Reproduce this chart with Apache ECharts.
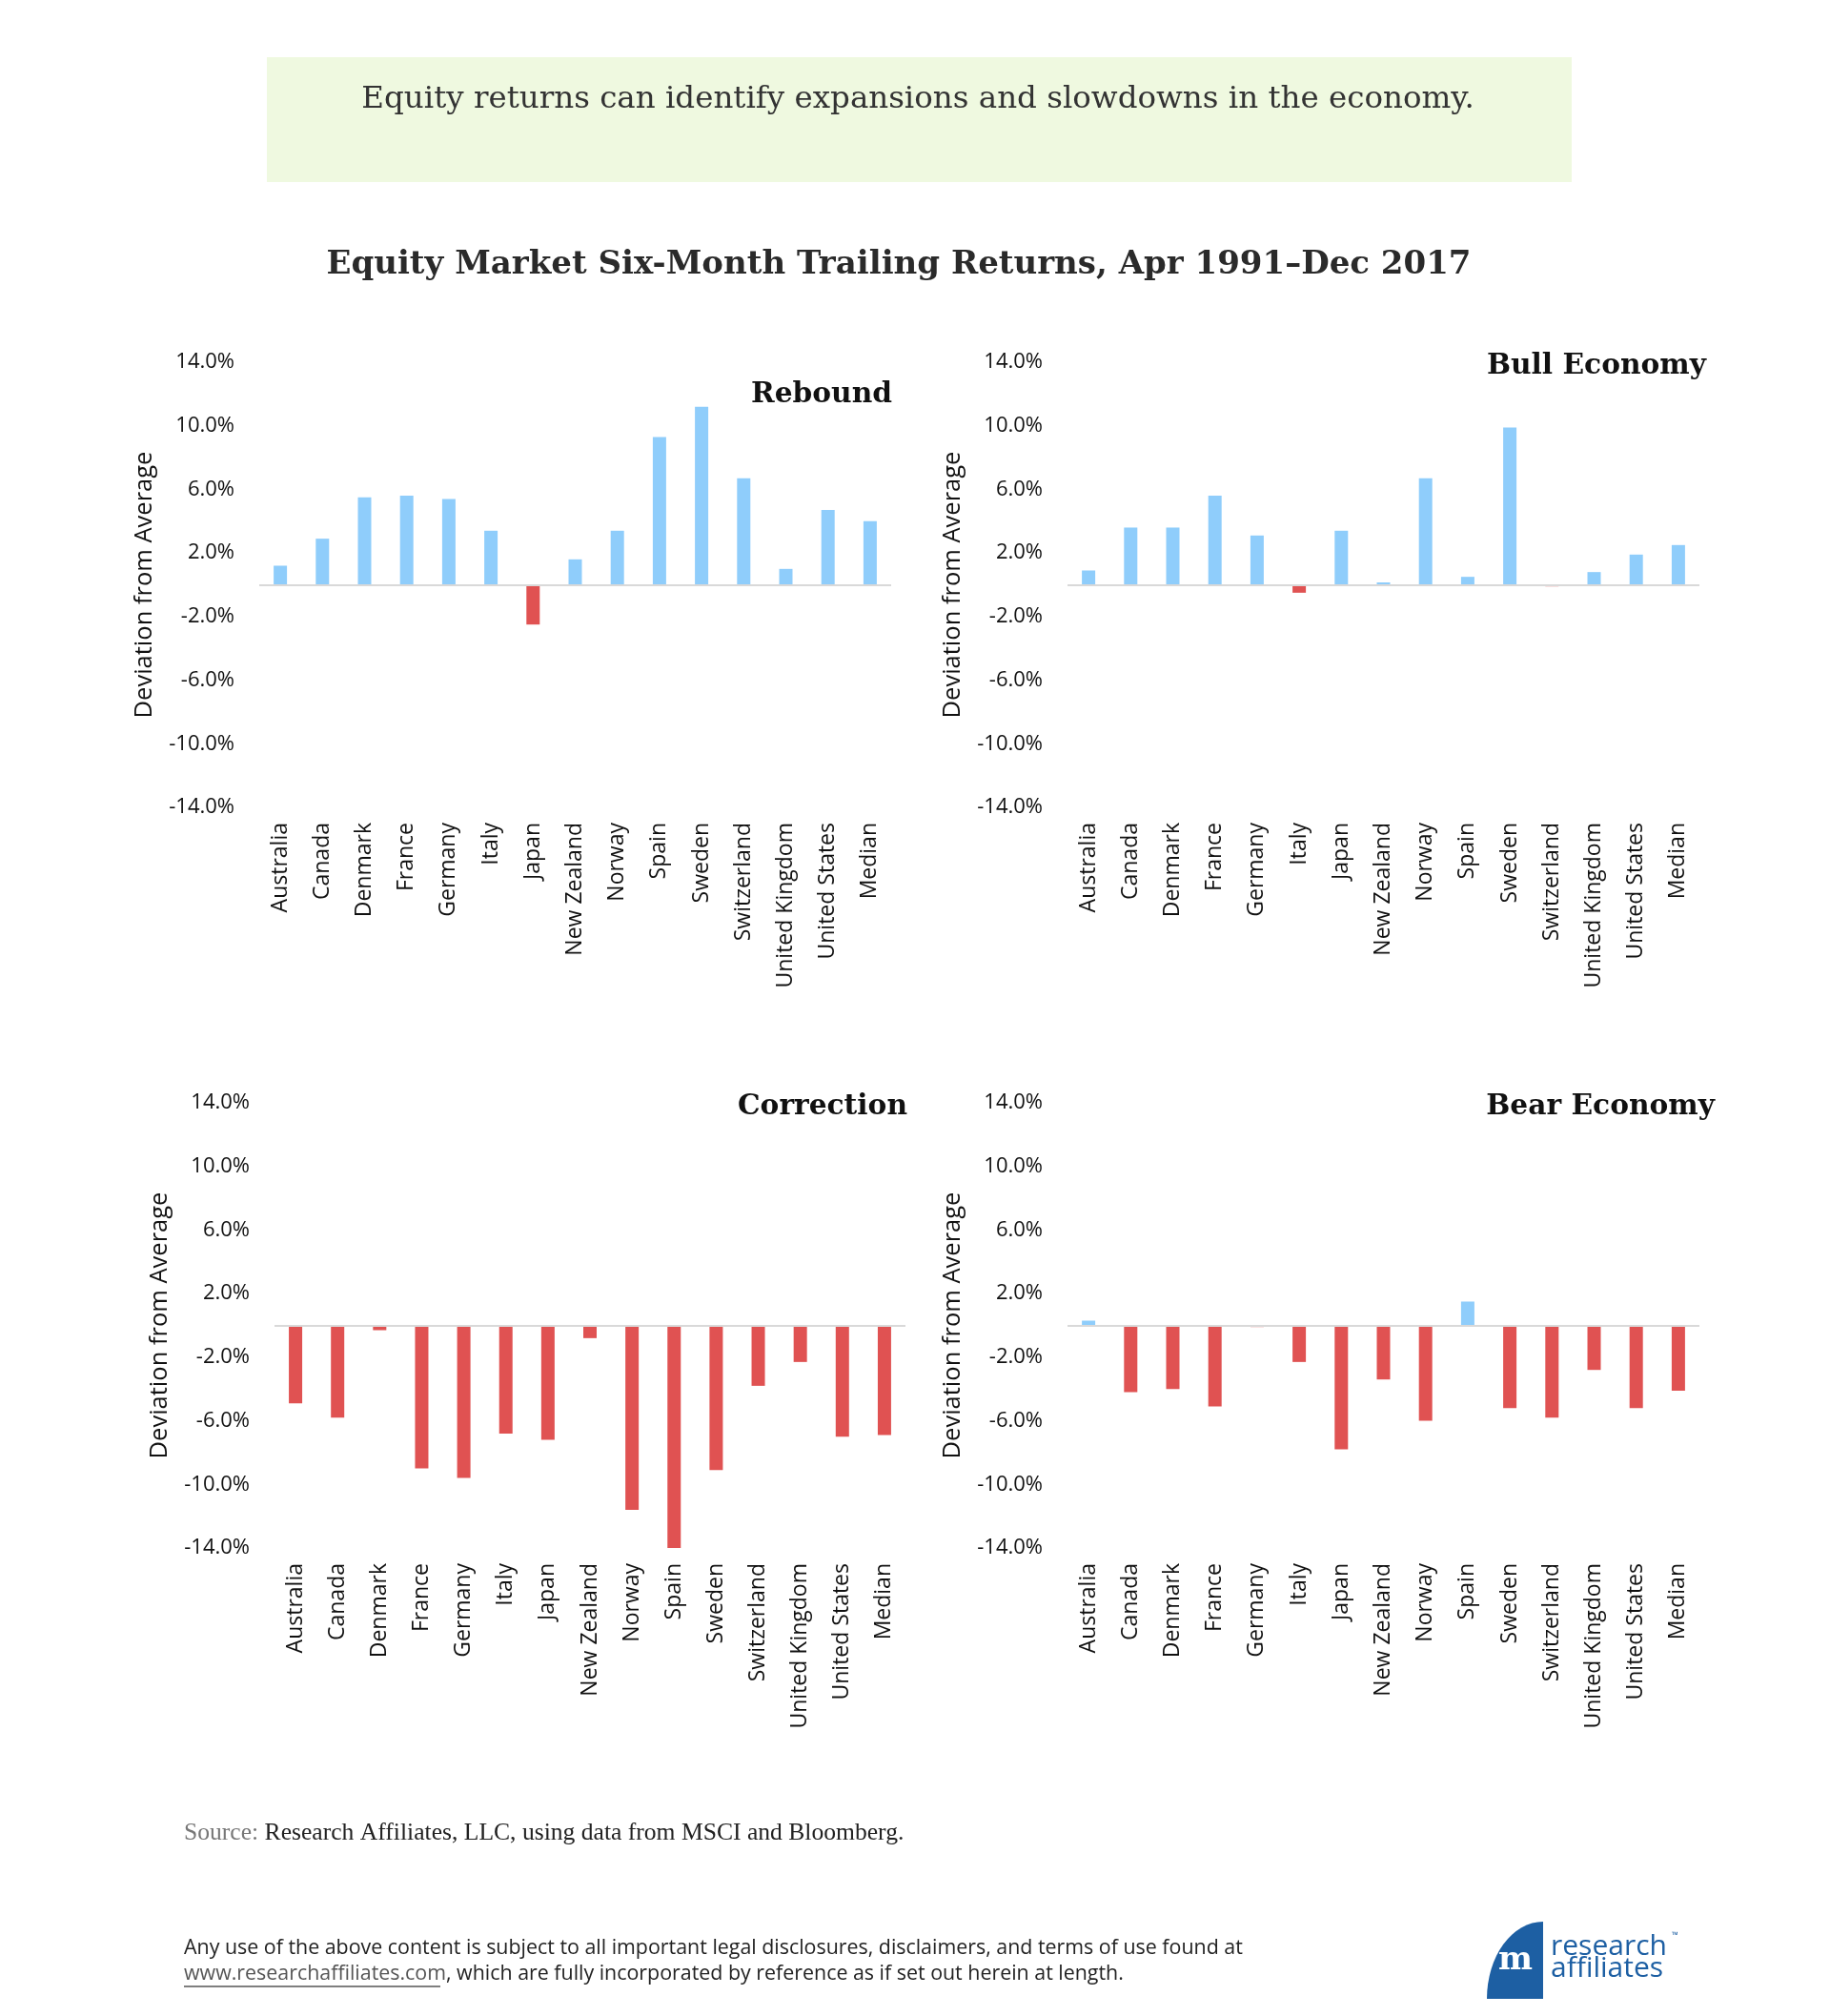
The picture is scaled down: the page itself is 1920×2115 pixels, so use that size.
<!DOCTYPE html>
<html>
<head>
<meta charset="utf-8">
<script src="https://cdn.jsdelivr.net/npm/echarts@6/dist/echarts.min.js"></script>
<style>
  html, body { margin: 0; padding: 0; background: #ffffff; }
  #chart { width: 1920px; height: 2115px; }
</style>
</head>
<body>
<div id="chart"></div>
<script>
// ---------- data ----------
const categories = ["Australia", "Canada", "Denmark", "France", "Germany", "Italy", "Japan",
  "New Zealand", "Norway", "Spain", "Sweden", "Switzerland", "United Kingdom", "United States", "Median"];

const reboundValues    = [1.2, 2.9, 5.5, 5.6, 5.4, 3.4, -2.5, 1.6, 3.4, 9.3, 11.2, 6.7, 1.0, 4.7, 4.0];
const bullValues       = [0.9, 3.6, 3.6, 5.6, 3.1, -0.5, 3.4, 0.15, 6.7, 0.5, 9.9, -0.1, 0.8, 1.9, 2.5];
const correctionValues = [-4.9, -5.8, -0.3, -9.0, -9.6, -6.8, -7.2, -0.8, -11.6, -14.0, -9.1, -3.8, -2.3, -7.0, -6.9];
const bearValues       = [0.3, -4.2, -4.0, -5.1, -0.1, -2.3, -7.8, -3.4, -6.0, 1.5, -5.2, -5.8, -2.8, -5.2, -4.1];

const panelTitles = ["Rebound", "Bull Economy", "Correction", "Bear Economy"];
const yMin = -14, yMax = 14, yInterval = 4;
const yAxisName = "Deviation from Average";

// ---------- styles ----------
const POS = "#8fcdfb";
const NEG = "#e05252";
const SANS = "'Open Sans', 'Noto Sans', sans-serif";

const panels = [
  { values: reboundValues,    grid: { left: 272,  top: 380,  width: 663, height: 467 }, title: { x: 936,  y: 414 } },
  { values: bullValues,       grid: { left: 1120, top: 380,  width: 663, height: 467 }, title: { x: 1790, y: 384 } },
  { values: correctionValues, grid: { left: 288,  top: 1157, width: 662, height: 467 }, title: { x: 952,  y: 1161 } },
  { values: bearValues,       grid: { left: 1120, top: 1157, width: 663, height: 467 }, title: { x: 1799, y: 1161 } }
];

const grid = [], xAxis = [], yAxis = [], series = [];
panels.forEach((p, i) => {
  grid.push(Object.assign({ containLabel: false }, p.grid));
  xAxis.push({
    type: 'category', gridIndex: i, data: categories,
    axisLine: { show: false }, axisTick: { show: false },
    axisLabel: { rotate: 90, margin: 16, interval: 0, color: '#111', fontFamily: SANS, fontSize: 23 }
  });
  yAxis.push({
    type: 'value', gridIndex: i, min: yMin, max: yMax, interval: yInterval,
    name: yAxisName, nameLocation: 'middle', nameRotate: 90, nameGap: 107,
    nameTextStyle: { fontFamily: SANS, fontSize: 25.5, color: '#111' },
    axisLine: { show: false }, axisTick: { show: false }, splitLine: { show: false },
    axisLabel: { margin: 26, color: '#111', fontFamily: SANS, fontSize: 22,
      formatter: v => v.toFixed(1) + '%' }
  });
  series.push({
    type: 'bar', xAxisIndex: i, yAxisIndex: i, data: p.values, barWidth: 14,
    itemStyle: { color: params => params.value < 0 ? NEG : POS },
    markLine: {
      silent: true, symbol: ['none', 'none'], label: { show: false },
      lineStyle: { color: '#d9d9d9', width: 2, type: 'solid' },
      data: [{ yAxis: 0 }]
    },
    animation: false
  });
});

const graphic = [
  { type: 'rect', shape: { x: 280, y: 60, width: 1369, height: 131 }, style: { fill: '#eff9e0' } },
  { type: 'text', x: 963, y: 105, style: { text: 'Equity returns can identify expansions and slowdowns in the economy.',
      font: "32.5px 'DejaVu Serif', serif", fill: '#333333', textAlign: 'center', textVerticalAlign: 'middle' } },
  { type: 'text', x: 943, y: 278, style: { text: 'Equity Market Six-Month Trailing Returns, Apr 1991\u2013Dec 2017',
      font: "bold 34px 'DejaVu Serif', serif", fill: '#2a2a2a', textAlign: 'center', textVerticalAlign: 'middle' } },
  { type: 'text', x: 193, y: 1923, style: {
      text: '{g|Source: }{d|Research Affiliates, LLC, using data from MSCI and Bloomberg.}',
      rich: {
        g: { font: "25.6px 'Liberation Serif', serif", fill: '#777777' },
        d: { font: "25.6px 'Liberation Serif', serif", fill: '#222222' }
      },
      textAlign: 'left', textVerticalAlign: 'middle' } },
  { type: 'text', x: 193, y: 2044, style: {
      text: 'Any use of the above content is subject to all important legal disclosures, disclaimers, and terms of use found at',
      font: "21.4px 'Open Sans', sans-serif", fill: '#222222', textAlign: 'left', textVerticalAlign: 'middle' } },
  { type: 'text', x: 193, y: 2071, style: {
      text: '{l|www.researchaffiliates.com}{d|, which are fully incorporated by reference as if set out herein at length.}',
      rich: {
        l: { font: "21.4px 'Open Sans', sans-serif", fill: '#555555' },
        d: { font: "21.4px 'Open Sans', sans-serif", fill: '#222222' }
      },
      textAlign: 'left', textVerticalAlign: 'middle' } },
  { type: 'line', shape: { x1: 193, y1: 2084, x2: 462, y2: 2084 }, style: { stroke: '#555555', lineWidth: 1.5 } },
  // logo
  { type: 'sector', x: 1619, y: 2097, scaleX: 59 / 81,
    shape: { cx: 0, cy: 0, r: 81, r0: 0, startAngle: Math.PI, endAngle: 1.5 * Math.PI, clockwise: true },
    style: { fill: '#1d5fa3' } },
  { type: 'text', x: 1590, y: 2057, style: { text: 'm', font: "bold 34px 'DejaVu Serif', serif", fill: '#ffffff',
      textAlign: 'center', textVerticalAlign: 'middle' } },
  { type: 'text', x: 1627, y: 2042, style: { text: 'research', font: "30px 'Open Sans', sans-serif", fill: '#1d5fa3',
      textAlign: 'left', textVerticalAlign: 'middle' } },
  { type: 'text', x: 1627, y: 2065, style: { text: 'affiliates', font: "30px 'Open Sans', sans-serif", fill: '#1d5fa3',
      textAlign: 'left', textVerticalAlign: 'middle' } },
  { type: 'text', x: 1754, y: 2030, style: { text: '\u2122', font: "9px 'Open Sans', sans-serif", fill: '#1d5fa3',
      textAlign: 'left', textVerticalAlign: 'middle' } }
];
panels.forEach((p, i) => {
  graphic.push({ type: 'text', x: p.title.x, y: p.title.y, style: { text: panelTitles[i],
    font: "bold 29.7px 'DejaVu Serif', serif", fill: '#111111', textAlign: 'right', textVerticalAlign: 'middle' } });
});

const chart = echarts.init(document.getElementById('chart'), null, { renderer: 'canvas' });
chart.setOption({
  backgroundColor: '#ffffff',
  animation: false,
  grid, xAxis, yAxis, series, graphic
});
</script>
</body>
</html>
